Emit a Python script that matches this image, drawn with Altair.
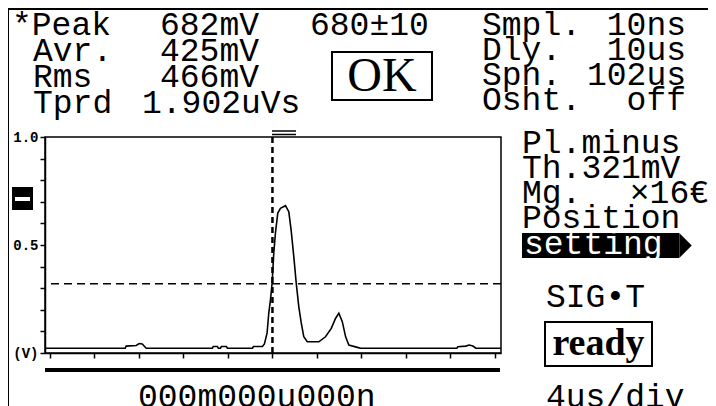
import altair as alt
import pandas as pd

# ---------------- data ----------------
t_us = [-20.45, -13.24, -13.15, -12.25, -11.98, -11.71, -11.35, -5.41, -5.32, -4.95,
        -4.86, -4.68, -4.59, -4.14, -4.05, -1.80, -1.71, -0.90, -0.72, -0.48,
        -0.33, -0.18, -0.03, 0.12, 0.27, 0.48, 0.72, 1.17, 1.47, 1.68,
        1.92, 2.14, 2.37, 2.59, 2.82, 3.13, 4.17, 4.77, 5.29, 5.68,
        5.97, 6.28, 6.58, 6.87, 7.63, 7.93, 16.58, 16.67, 17.39, 17.68,
        18.02, 18.29, 20.54]
volts = [0.022, 0.022, 0.032, 0.035, 0.044, 0.042, 0.022, 0.022, 0.030, 0.030,
         0.022, 0.022, 0.030, 0.030, 0.022, 0.022, 0.030, 0.030, 0.042, 0.093,
         0.185, 0.245, 0.324, 0.463, 0.556, 0.648, 0.670, 0.682, 0.654, 0.569,
         0.446, 0.323, 0.214, 0.139, 0.075, 0.052, 0.052, 0.075, 0.114, 0.161,
         0.184, 0.145, 0.075, 0.037, 0.026, 0.022, 0.022, 0.029, 0.032, 0.037,
         0.032, 0.022, 0.022]
threshold_v = [0.321]
trigger_us = [0.0]
x_ticks = [-20, -16, -12, -8, -4, 0, 4, 8, 12, 16, 20]
y_ticks = [0.0, 0.1, 0.2, 0.3, 0.4, 0.5, 0.6, 0.7, 0.8, 0.9, 1.0]

meas_names = ["*Peak", "Avr.", "Rms", "Tprd"]
meas_values = ["682mV", "425mV", "466mV", "1.902uVs"]
judge_range = "680±10"
judge_result = "OK"
cond_names = ["Smpl.", "Dly.", "Spn.", "Osht."]
cond_values = ["10ns", "10us", "102us", "off"]
side_names = ["Pl.minus", "Th.321mV", "Mg.", "Position"]
mag_value = "×16€"
menu_label = "setting"
sig_label = "SIG•T"
status_label = "ready"
timebase_label = "4us/div"
counter_label = "000m000u000n"

MONO = "Liberation Mono"
SERIF = "Liberation Serif"
FS = 33
OX, OY = 45, 137  # plot origin in window pixels

dummy = pd.DataFrame({"k": [0]})


def txt(s, X, Y, size=FS, align="left", color="black", font=MONO, weight="normal",
        baseline="alphabetic"):
    return alt.Chart(dummy).mark_text(
        text=s, align=align, baseline=baseline, fontSize=size, font=font,
        color=color, fontWeight=weight
    ).encode(x=alt.value(X - OX), y=alt.value(Y - OY))


def box(X1, X2, Y1, Y2, fill="black", stroke=None, sw=0):
    kw = dict(fill=fill)
    if stroke is not None:
        kw.update(stroke=stroke, strokeWidth=sw)
    return alt.Chart(dummy).mark_rect(**kw).encode(
        x=alt.value(X1 - OX), x2=alt.value(X2 - OX),
        y=alt.value(Y1 - OY), y2=alt.value(Y2 - OY))


def hline(X1, X2, Y, sw=1.5):
    return alt.Chart(dummy).mark_rule(color="black", strokeWidth=sw).encode(
        x=alt.value(X1 - OX), x2=alt.value(X2 - OX), y=alt.value(Y - OY))


xscale = alt.Scale(domain=[-20.45, 20.55], nice=False, zero=False)
yscale = alt.Scale(domain=[0, 1], nice=False, zero=False)
ax_x = alt.Axis(values=x_ticks, labels=False, title=None, grid=False,
                tickSize=5, tickColor="black", tickWidth=1.5,
                domainColor="black", domainWidth=1.5)
ax_y = alt.Axis(values=y_ticks, title=None, grid=False, tickSize=5,
                tickColor="black", tickWidth=1.5, domainColor="black",
                domainWidth=1.5, labelFont=MONO, labelFontSize=14,
                labelFontWeight="bold",
                labelColor="black", labelPadding=2, labelOverlap=False,
                labelBound=False, labelFlush=False,
                labelExpr="abs(datum.value - 1) < 0.001 ? '1.0' : (abs(datum.value - 0.5) < 0.001 ? '0.5' : (abs(datum.value) < 0.001 ? '(V)' : ''))")

wave_df = pd.DataFrame({"t": t_us, "v": volts, "i": range(len(t_us))})

wave = alt.Chart(wave_df).mark_line(color="black", strokeWidth=1.6).encode(
    x=alt.X("t:Q", scale=xscale, axis=ax_x),
    y=alt.Y("v:Q", scale=yscale, axis=ax_y),
    order="i:Q",
)

thr = alt.Chart(pd.DataFrame({"v": threshold_v})).mark_rule(
    color="black", strokeWidth=1.5, strokeDash=[8, 5]).encode(
    y=alt.Y("v:Q", scale=yscale, axis=ax_y))
trig = alt.Chart(pd.DataFrame({"t": trigger_us})).mark_rule(
    color="black", strokeWidth=2.5, strokeDash=[6, 4]).encode(
    x=alt.X("t:Q", scale=xscale, axis=ax_x))

layers = [wave, thr, trig]

# frame decorations
layers += [
    box(8, 716, 8, 10),                 # top black band
    box(8, 9, 8, 406),                  # left black band
    hline(45, 500, 370, sw=4),          # thick bar under plot
    hline(272, 296, 131), hline(272, 296, 134.5),  # "=" marker
    box(12, 33, 187, 210),              # level marker box
    box(15, 30, 197, 201, fill="white"),
]

# measurement block
rows = [35, 61, 87, 113]
layers.append(txt(meas_names[0], 12, rows[0]))
for n, yv in zip(meas_names[1:], rows[1:]):
    layers.append(txt(n, 33, yv))
for j, (val, yv) in enumerate(zip(meas_values, rows)):
    layers.append(txt(val, 142 if j == 3 else 160, yv))
layers.append(txt(judge_range, 310, 35))
layers.append(box(332, 432, 52, 100, fill="white", stroke="black", sw=2))
layers.append(txt(judge_result, 382, 77, size=48, align="center", font=SERIF,
                  baseline="middle"))

crow = [35, 60, 85, 110]
for n, val, yv in zip(cond_names, cond_values, crow):
    layers.append(txt(n, 482, yv))
    layers.append(txt(val, 686, yv, align="right"))

# side panel
for s, yv in zip(side_names, [153, 178, 203, 228]):
    layers.append(txt(s, 522, yv))
layers.append(txt(mag_value, 709, 203, align="right"))
layers.append(box(522, 679, 233, 258))
layers.append(alt.Chart(dummy).mark_point(
    shape="M-0.5,-1L0.5,0L-0.5,1Z", filled=True, color="black", size=625, opacity=1
).encode(x=alt.value(685.5 - OX), y=alt.value(245.5 - OY)))
layers.append(txt(menu_label, 524, 254, color="white"))
layers.append(txt(sig_label, 546, 307))
layers.append(box(545, 652, 322, 366, fill="white", stroke="black", sw=2))
layers.append(txt(status_label, 598.5, 344, size=38, align="center", font=SERIF,
                  weight="bold", baseline="middle"))
layers.append(txt(timebase_label, 546, 407))
layers.append(txt(counter_label, 138, 407))

chart = alt.layer(*layers).properties(
    width=456, height=216,
    autosize=alt.AutoSizeParams(type="none"),
    padding={"left": 37, "top": 129, "right": 207, "bottom": 53},
    background="white",
).configure_view(stroke="black", strokeWidth=1.5)

chart.save("out.html", embed_options={"renderer": "svg", "actions": False})
